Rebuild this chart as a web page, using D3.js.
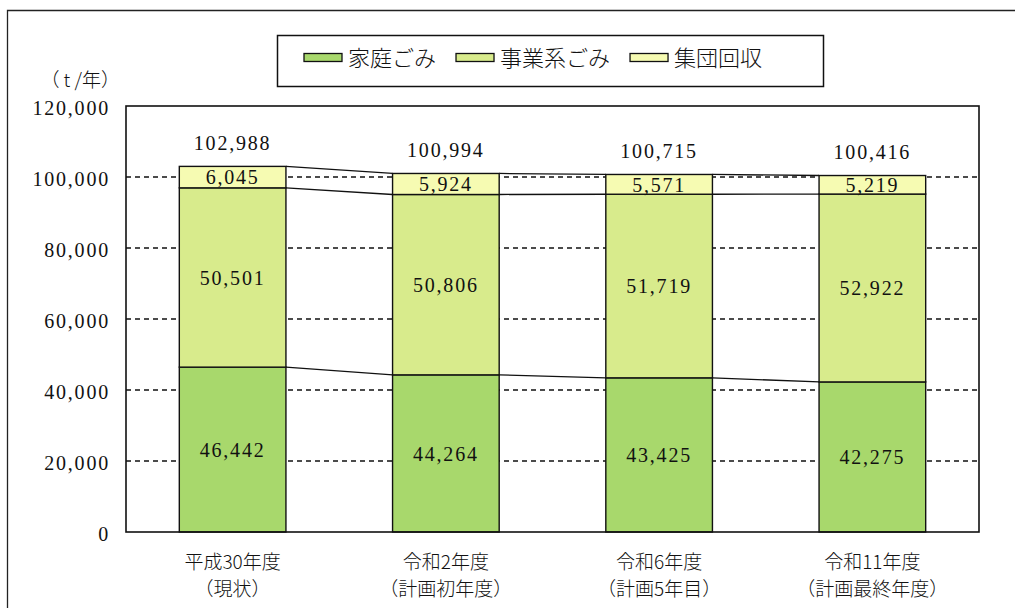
<!DOCTYPE html>
<html><head><meta charset="utf-8">
<script src="https://cdn.jsdelivr.net/npm/d3@7"></script>
<style>
body{margin:0;background:#fff;}
.num{font-family:"Liberation Serif","DejaVu Serif",serif;letter-spacing:1.8px;}
.jp{font-family:"Noto Sans CJK JP","Noto Sans",sans-serif;font-weight:300;}
</style></head>
<body>
<svg id="c" width="1015" height="608"></svg>
<script>
const categories = ["平成30年度","令和2年度","令和6年度","令和11年度"];
const subLabels = ["（現状）","（計画初年度）","（計画5年目）","（計画最終年度）"];
const seriesNames = ["家庭ごみ","事業系ごみ","集団回収"];
const household = [46442,44264,43425,42275];
const business = [50501,50806,51719,52922];
const collection = [6045,5924,5571,5219];
const yTicks = [0,20000,40000,60000,80000,100000,120000];
const colors = ["#A8D86C","#D8EB8C","#F6FBB2"];
const unitLabel = "（ t /年）";

const svg = d3.select("#c");
const fmt = d3.format(",");
const pL=126, pR=979, pT=106, pB=532;

const x = d3.scaleBand().domain(categories).range([pL,pR]).paddingInner(0.5).paddingOuter(0.25);
const y = d3.scaleLinear().domain([0,120000]).range([pB,pT]);

// outer border
svg.append("path").attr("d","M7.5,608V10.5H1015").attr("fill","none").attr("stroke","#222").attr("stroke-width",1.3);

// gridlines
svg.append("g").selectAll("line").data(yTicks.filter(d=>d>0 && d<120000)).join("line")
  .attr("x1",pL).attr("x2",pR).attr("y1",d=>y(d)).attr("y2",d=>y(d))
  .attr("stroke","#111").attr("stroke-width",1.3).attr("stroke-dasharray","5,4");

// y axis labels
const yAxis = d3.axisLeft(y).tickValues(yTicks).tickSize(0).tickPadding(16).tickFormat(fmt);
const ga = svg.append("g").attr("transform",`translate(${pL},0)`).call(yAxis);
ga.select(".domain").remove();
ga.selectAll("text").attr("class","num").attr("font-size",20).attr("fill","#111").attr("dy","0.4em");

svg.append("text").attr("class","jp").attr("x",120).attr("y",80).attr("dy","0.36em").attr("text-anchor","end")
  .attr("font-size",19).attr("fill","#111").text(unitLabel);

// stack
const rows = categories.map((c,i)=>({cat:c, "家庭ごみ":household[i], "事業系ごみ":business[i], "集団回収":collection[i]}));
const stack = d3.stack().keys(seriesNames)(rows);
const bw = x.bandwidth();

stack.forEach((s,si)=>{
  const g = svg.append("g");
  g.selectAll("rect").data(s).join("rect")
    .attr("x",d=>x(d.data.cat)).attr("width",bw)
    .attr("y",d=>y(d[1])).attr("height",d=>y(d[0])-y(d[1]))
    .attr("fill",colors[si]).attr("stroke","#111").attr("stroke-width",1.4);
  g.selectAll("text").data(s).join("text").attr("class","num")
    .attr("x",d=>x(d.data.cat)+bw/2).attr("y",d=>(y(d[0])+y(d[1]))/2).attr("dy","0.36em")
    .attr("text-anchor","middle").attr("font-size",20).attr("fill","#111")
    .text(d=>fmt(d[1]-d[0]));
  const pairs = d3.pairs(s);
  svg.append("g").selectAll("line").data(pairs).join("line")
    .attr("x1",p=>x(p[0].data.cat)+bw).attr("y1",p=>y(p[0][1]))
    .attr("x2",p=>x(p[1].data.cat)).attr("y2",p=>y(p[1][1]))
    .attr("stroke","#111").attr("stroke-width",1.3);
});

// totals
const totals = categories.map((c,i)=>household[i]+business[i]+collection[i]);
svg.append("g").selectAll("text").data(totals).join("text").attr("class","num")
  .attr("x",(d,i)=>x(categories[i])+bw/2).attr("y",d=>y(d)-24).attr("dy","0.36em")
  .attr("text-anchor","middle").attr("font-size",20).attr("fill","#111").text(d=>fmt(d));

// plot frame
svg.append("rect").attr("x",pL).attr("y",pT).attr("width",pR-pL).attr("height",pB-pT)
  .attr("fill","none").attr("stroke","#111").attr("stroke-width",1.6);

// x labels
const gx = svg.append("g");
categories.forEach((c,i)=>{
  const cx = x(c)+bw/2;
  gx.append("text").attr("class","jp").attr("x",cx).attr("y",562).attr("dy","0.36em")
    .attr("text-anchor","middle").attr("font-size",19).attr("fill","#111").text(c);
  gx.append("text").attr("class","jp").attr("x",cx).attr("y",589).attr("dy","0.36em")
    .attr("text-anchor","middle").attr("font-size",19).attr("fill","#111").text(subLabels[i]);
});

// legend
const lg = svg.append("g");
lg.append("rect").attr("x",277.5).attr("y",35.5).attr("width",546).attr("height",51)
  .attr("fill","#fff").attr("stroke","#111").attr("stroke-width",1.5);
let lx = 304;
seriesNames.forEach((n,i)=>{
  lg.append("rect").attr("x",lx).attr("y",53.5).attr("width",38).attr("height",8)
    .attr("fill",colors[i]).attr("stroke","#111").attr("stroke-width",1.3);
  const t = lg.append("text").attr("class","jp").attr("x",lx+44).attr("y",58).attr("dy","0.36em")
    .attr("font-size",22).attr("fill","#111").text(n);
  lx += 44 + t.node().getComputedTextLength() + 20;
});
</script>
</body></html>
